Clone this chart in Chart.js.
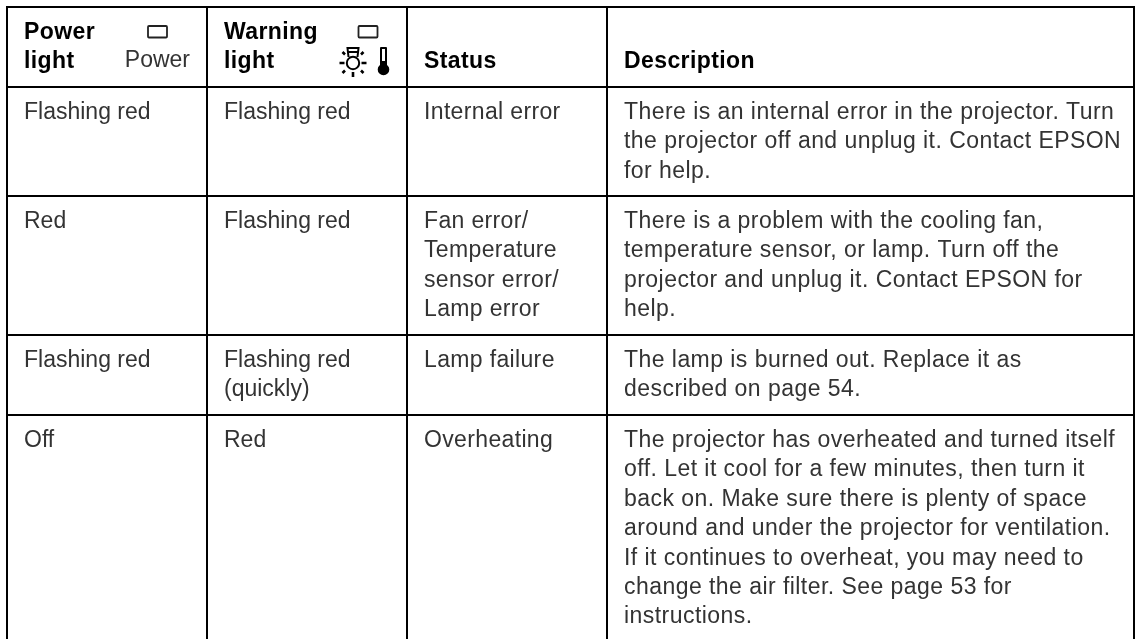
<!DOCTYPE html>
<html>
<head>
<meta charset="utf-8">
<title>Status lights</title>
<script src="https://cdn.jsdelivr.net/npm/chart.js@4/dist/chart.umd.min.js"></script>
<style>
  html, body { margin: 0; padding: 0; background: #fff; }
  canvas { display: block; }
</style>
</head>
<body>
<canvas id="table-chart" width="1138" height="639"></canvas>
<script>
// Table text
const headerPower = ['Power', 'light'];
const headerPowerIcon = 'Power';
const headerWarning = ['Warning', 'light'];
const headerStatus = 'Status';
const headerDescription = 'Description';

const powerLight = [['Flashing red'], ['Red'], ['Flashing red'], ['Off']];
const warningLight = [['Flashing red'], ['Flashing red'], ['Flashing red', '(quickly)'], ['Red']];
const statuses = [
    ['Internal error'],
    ['Fan error/', 'Temperature', 'sensor error/', 'Lamp error'],
    ['Lamp failure'],
    ['Overheating']
];
const descriptions = [
    ['There is an internal error in the projector. Turn', 'the projector off and unplug it. Contact EPSON', 'for help.'],
    ['There is a problem with the cooling fan,', 'temperature sensor, or lamp. Turn off the', 'projector and unplug it. Contact EPSON for', 'help.'],
    ['The lamp is burned out. Replace it as', 'described on page 54.'],
    ['The projector has overheated and turned itself', 'off. Let it cool for a few minutes, then turn it', 'back on. Make sure there is plenty of space', 'around and under the projector for ventilation.', 'If it continues to overheat, you may need to', 'change the air filter. See page 53 for', 'instructions.']
];

// Rules of the table, in page pixels (the axes run 1:1 with the canvas)
const columnEdges = [7, 207, 407, 607, 1134];
const rowEdges = [7, 87, 196, 335, 415];

const cellPad = 17;
const firstBaseline = 32;
const lineGap = 29.4;
const bodyFont = '23px "Liberation Sans"';
const boldFont = '700 23px "Liberation Sans"';
const textColor = '#333';
// the original face runs a bit wider than Liberation, more so in the long lines
const columnSpacing = ['0px', '0px', '0.35px', '0.45px'];

function drawHeader(ctx, x, y) {
    ctx.font = boldFont;
    ctx.letterSpacing = '0.4px';
    ctx.fillStyle = '#000';
    ctx.textAlign = 'left';
    headerPower.forEach((t, i) => ctx.fillText(t, x.getPixelForValue(columnEdges[0] + cellPad), y.getPixelForValue(39 + i * 29)));
    headerWarning.forEach((t, i) => ctx.fillText(t, x.getPixelForValue(columnEdges[1] + cellPad), y.getPixelForValue(39 + i * 29)));
    ctx.fillText(headerStatus, x.getPixelForValue(columnEdges[2] + cellPad), y.getPixelForValue(68));
    ctx.fillText(headerDescription, x.getPixelForValue(columnEdges[3] + cellPad), y.getPixelForValue(68));

    ctx.font = bodyFont;
    ctx.letterSpacing = '0px';
    ctx.fillStyle = textColor;
    ctx.textAlign = 'right';
    ctx.fillText(headerPowerIcon, x.getPixelForValue(190), y.getPixelForValue(67));
    ctx.textAlign = 'left';
}

function drawIcons(ctx) {
    ctx.save();
    ctx.strokeStyle = '#222';
    ctx.lineWidth = 1.8;

    // the two small indicator boxes
    ctx.beginPath();
    ctx.roundRect(148, 26, 19, 11.5, 1);
    ctx.roundRect(358.5, 26, 19, 11.5, 1);
    ctx.stroke();

    // lamp
    ctx.strokeStyle = '#000';
    ctx.lineWidth = 2;
    ctx.beginPath();
    ctx.arc(353, 63, 6.2, 0, Math.PI * 2);
    ctx.moveTo(348.5, 57);
    ctx.lineTo(347.5, 48);
    ctx.lineTo(358.5, 48);
    ctx.lineTo(357.5, 57);
    ctx.moveTo(348, 52);
    ctx.lineTo(358, 52);
    ctx.stroke();
    ctx.lineWidth = 2.6;
    ctx.beginPath();
    ctx.moveTo(339.5, 63); ctx.lineTo(344.5, 63);
    ctx.moveTo(361.5, 63); ctx.lineTo(366.5, 63);
    ctx.moveTo(353, 72); ctx.lineTo(353, 77);
    ctx.moveTo(345, 70.5); ctx.lineTo(342.5, 73);
    ctx.moveTo(361, 70.5); ctx.lineTo(363.5, 73);
    ctx.moveTo(345, 54.5); ctx.lineTo(342.5, 52);
    ctx.moveTo(361, 54.5); ctx.lineTo(363.5, 52);
    ctx.stroke();

    // thermometer
    ctx.fillStyle = '#000';
    ctx.beginPath();
    ctx.roundRect(380, 47, 7, 24, 1);
    ctx.arc(383.5, 69.5, 5.8, 0, Math.PI * 2);
    ctx.fill();
    ctx.fillStyle = '#fff';
    ctx.fillRect(382, 49, 3, 12);
    ctx.restore();
}

const tableText = {
    id: 'tableText',
    afterDraw(chart) {
        const { ctx, scales: { x, y } } = chart;
        ctx.save();
        ctx.textBaseline = 'alphabetic';
        drawHeader(ctx, x, y);

        ctx.font = bodyFont;
        ctx.fillStyle = textColor;
        [powerLight, warningLight, statuses, descriptions].forEach((column, c) => {
            ctx.letterSpacing = columnSpacing[c];
            column.forEach((lines, r) => {
                lines.forEach((line, l) => {
                    const px = x.getPixelForValue(columnEdges[c] + cellPad);
                    const py = y.getPixelForValue(rowEdges[r + 1] + firstBaseline + l * lineGap);
                    ctx.fillText(line, px, py);
                });
            });
        });
        ctx.restore();
        drawIcons(ctx);
    }
};

new Chart(document.getElementById('table-chart').getContext('2d'), {
    type: 'scatter',
    data: { datasets: [{ data: [] }] },
    plugins: [tableText],
    options: {
        responsive: false,
        animation: false,
        layout: { padding: { left: 6, right: 3, top: 6, bottom: 0 } },
        plugins: { legend: { display: false }, tooltip: { enabled: false } },
        scales: {
            x: {
                type: 'linear',
                min: 6,
                max: 1135,
                afterBuildTicks: axis => { axis.ticks = columnEdges.map(v => ({ value: v })); },
                grid: { color: '#000', lineWidth: 2, drawTicks: false },
                border: { display: false },
                ticks: { display: false }
            },
            y: {
                type: 'linear',
                reverse: true,
                min: 6,
                max: 639,
                afterBuildTicks: axis => { axis.ticks = rowEdges.map(v => ({ value: v })); },
                grid: { color: '#000', lineWidth: 2, drawTicks: false },
                border: { display: false },
                ticks: { display: false }
            }
        }
    }
});
</script>
</body>
</html>
